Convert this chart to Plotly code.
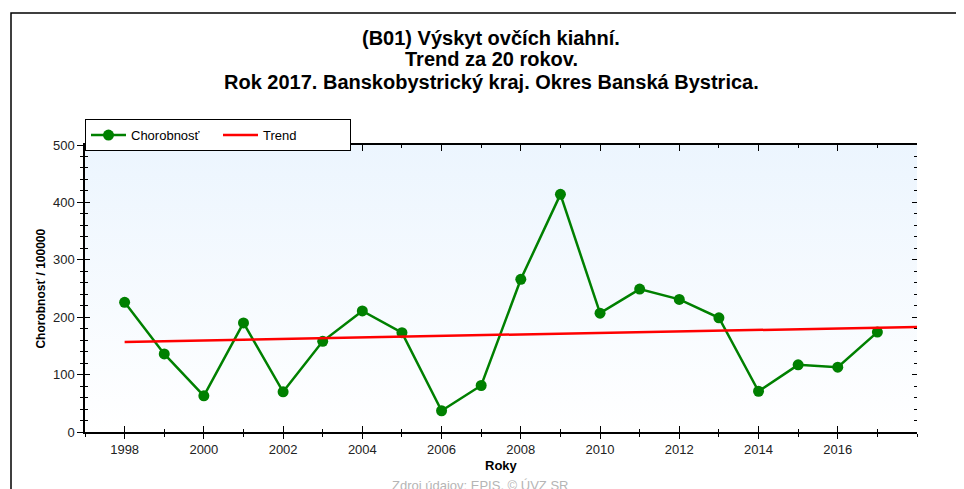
"""
Výskyt ovčích kiahní - trend za 20 rokov (Banská Bystrica)
"""

import plotly.graph_objects as go

years = list(range(1998, 2018))
chorobnost = [226, 136, 63, 190, 70, 158, 211, 173, 37, 81,
              266, 414, 207, 249, 231, 199, 71, 117, 113, 174]

trend_years = [1998, 2018]
trend_values = [157, 183]

x_range = [1997, 2018]
y_range = [0, 500]
x_ticks = list(range(1998, 2017, 2))

title_lines = ['(B01) Výskyt ovčích kiahní.',
               'Trend za 20 rokov.',
               'Rok 2017. Banskobystrický kraj. Okres Banská Bystrica.']
title_y = [1.373, 1.300, 1.220]

FONT = 'Liberation Sans, Arial, sans-serif'
GREEN = '#008000'
RED = '#ff0000'

fig = go.Figure()

# light blue gradient behind the plot
fig.add_trace(go.Scatter(
    x=[x_range[0], x_range[1], x_range[1], x_range[0]],
    y=[y_range[0], y_range[0], y_range[1], y_range[1]],
    fill='toself', mode='none', showlegend=False, hoverinfo='skip',
    fillgradient=dict(type='vertical', colorscale=[[0, '#ffffff'], [1, '#ecf5fe']]),
))

fig.add_trace(go.Scatter(
    x=years, y=chorobnost, name='Chorobnosť', mode='lines+markers',
    line=dict(color=GREEN, width=2.5), marker=dict(color=GREEN, size=11),
))
fig.add_trace(go.Scatter(
    x=trend_years, y=trend_values, name='Trend', mode='lines',
    line=dict(color=RED, width=2.5), xaxis='x2', yaxis='y3',
))

tick_font = dict(family=FONT, size=13, color='#222')

# the page puts the plot 8px from the corner, so the figure is 8px smaller
fig.update_layout(
    width=956, height=481,
    margin=dict(l=77, r=47, t=137, b=57),
    paper_bgcolor='white', plot_bgcolor='rgba(0,0,0,0)',
    font=dict(family=FONT, color='#000'),
    legend=dict(orientation='h', x=0.0, xanchor='left', y=1.09, yanchor='top',
                bordercolor='#000', borderwidth=1, bgcolor='white',
                font=dict(family=FONT, size=13, color='#000'),
                entrywidth=82, itemwidth=35, tracegroupgap=0,
                traceorder='normal'),
    xaxis=dict(range=x_range, showgrid=False, zeroline=False,
               showline=True, linecolor='#000', linewidth=1.5,
               tickmode='array', tickvals=x_ticks,
               ticks='outside', ticklen=5, tickcolor='#000',
               minor=dict(tickmode='linear', tick0=1997, dtick=1, ticks='outside',
                          ticklen=3, tickcolor='#000'),
               tickfont=tick_font),
    xaxis2=dict(range=x_range, overlaying='x', anchor='y', side='bottom',
                showgrid=False, zeroline=False, showline=True, linecolor='#000',
                linewidth=1.5, mirror='allticks',
                tickmode='array', tickvals=x_ticks,
                ticks='inside', ticklen=6, tickcolor='#000', showticklabels=False,
                minor=dict(tickmode='linear', tick0=1997, dtick=1, ticks='inside',
                           ticklen=3, tickcolor='#000')),
    yaxis=dict(range=y_range, showgrid=False, zeroline=False,
               showline=True, linecolor='#000', linewidth=1.5,
               tickmode='linear', tick0=0, dtick=100,
               ticks='outside', ticklen=6, tickcolor='#000',
               minor=dict(tickmode='linear', tick0=0, dtick=20, ticks='outside',
                          ticklen=3, tickcolor='#000'),
               tickfont=tick_font),
    yaxis2=dict(range=y_range, overlaying='y', anchor='x', side='right',
                showgrid=False, zeroline=False, showline=True, linecolor='#000',
                linewidth=1.5, tickmode='linear', tick0=0, dtick=100,
                ticks='outside', ticklen=6, tickcolor='#000',
                minor=dict(tickmode='linear', tick0=0, dtick=20, ticks='outside',
                           ticklen=3, tickcolor='#000'),
                tickfont=tick_font),
    yaxis3=dict(range=y_range, overlaying='y', anchor='x', side='left',
                showgrid=False, zeroline=False, showline=False,
                mirror='allticks', tickmode='linear', tick0=0, dtick=100,
                ticks='inside', ticklen=5, tickcolor='#000', showticklabels=False,
                minor=dict(tickmode='linear', tick0=0, dtick=20, ticks='inside',
                           ticklen=3, tickcolor='#000')),
)

for line, y in zip(title_lines, title_y):
    fig.add_annotation(text=f'<b>{line}</b>', xref='paper', yref='paper',
                       x=0.488, y=y, xanchor='center', yanchor='middle', showarrow=False,
                       font=dict(family=FONT, size=20, color='#000'))

fig.add_annotation(text='<b>Roky</b>', xref='paper', yref='paper',
                   x=0.5, y=-0.118, xanchor='center', yanchor='middle', showarrow=False,
                   font=dict(family=FONT, size=13, color='#000'))
fig.add_annotation(text='<b>Chorobnosť / 100000</b>', xref='paper', yref='paper',
                   x=-0.054, y=0.5, xanchor='center', yanchor='middle', showarrow=False,
                   textangle=-90, font=dict(family=FONT, size=12, color='#000'))

# outer frame of the picture (continues past the right and bottom edges)
fig.add_shape(type='rect', xref='paper', yref='paper',
              x0=(3 - 77) / 832, x1=1.2, y0=-0.3, y1=(424 - 5) / 287,
              line=dict(color='#000', width=1.5), layer='below')

fig.add_annotation(text='Zdroj údajov: EPIS, © ÚVZ SR', xref='paper', yref='paper',
                   x=0.475, y=-0.155, xanchor='center', yanchor='top', showarrow=False,
                   font=dict(family=FONT, size=13, color='#b5b5b5'))

fig.write_html("out.html")
